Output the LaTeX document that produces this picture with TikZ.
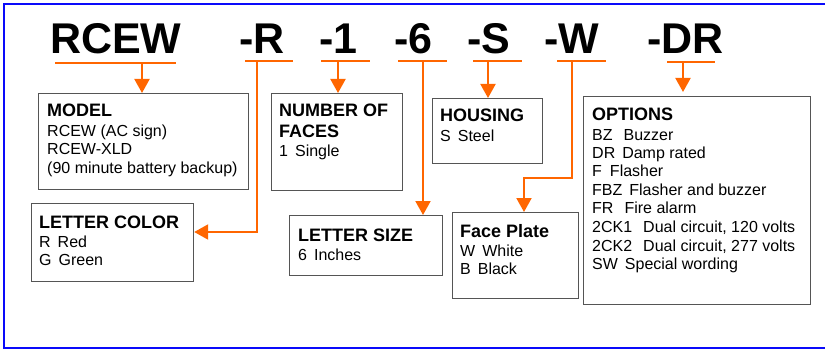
\documentclass[tikz,border=0pt]{standalone}
\usepackage{fontspec}
\setmainfont{Liberation Sans}
\usetikzlibrary{arrows.meta}
\definecolor{org}{RGB}{255,102,0}
\definecolor{bord}{RGB}{10,10,250}
\definecolor{boxc}{RGB}{85,85,85}
\newcommand{\gapsp}[1]{\hspace*{#1pt}}
\begin{document}
\begin{tikzpicture}[x=1pt,y=-1pt,
  box/.style={draw=boxc, line width=1.2pt, anchor=north west, inner sep=0pt},
  ttl/.style={anchor=base west, inner sep=0pt, font=\fontsize{43}{45}\selectfont\bfseries},
  hd/.style={anchor=base west, inner sep=0pt, font=\fontsize{18}{20}\selectfont\bfseries},
  bd/.style={anchor=base west, inner sep=0pt, font=\fontsize{16}{18}\selectfont},
  ul/.style={draw=org, line width=2pt},
  arr/.style={draw=org, line width=2pt, -{Triangle[width=15pt,length=14pt]}}]
\useasboundingbox (0,0) rectangle (825,350);
\draw[bord, line width=2.5pt] (4,4) rectangle (835,348);

% titles
\node[ttl] (tRCEW) at (50,54) {RCEW};
\node[ttl] (tR) at (239,54) {-R};
\node[ttl] (t1) at (319,54) {-1};
\node[ttl] (t6) at (394,54) {-6};
\node[ttl] (tS) at (467,54) {-S};
\node[ttl] (tW) at (544,54) {-W};
\node[ttl] (tDR) at (647,54) {-DR};

% underlines
\coordinate (uRCEWa) at (55,63);  \coordinate (uRCEWb) at (176,63); \coordinate (uRCEW) at (142,63);
\coordinate (uRa) at (245,61);    \coordinate (uRb) at (293,61);    \coordinate (uR) at (257,61);
\coordinate (u1a) at (321,61);    \coordinate (u1b) at (370,61);    \coordinate (u1) at (338,61);
\coordinate (u6a) at (398,61);    \coordinate (u6b) at (447,61);    \coordinate (u6) at (423,61);
\coordinate (uSa) at (473,61);    \coordinate (uSb) at (522,61);    \coordinate (uS) at (488,61);
\coordinate (uWa) at (557,61);    \coordinate (uWb) at (606,61);    \coordinate (uW) at (572,61);
\coordinate (uDRa) at (667,62);   \coordinate (uDRb) at (715,62);   \coordinate (uDR) at (683,62);
\foreach \u in {RCEW,R,1,6,S,W,DR} \draw[ul] (u\u a) -- (u\u b);

% boxes
\node[box, minimum width=210pt, minimum height=96pt] (model) at (38,93) {};
\node[box, minimum width=162pt, minimum height=78pt] (lcol) at (31,203) {};
\node[box, minimum width=131pt, minimum height=97pt] (faces) at (271,93) {};
\node[box, minimum width=110pt, minimum height=65pt] (hous) at (432,98) {};
\node[box, minimum width=153pt, minimum height=60pt] (lsize) at (289,215) {};
\node[box, minimum width=126pt, minimum height=86pt] (fplate) at (452,212) {};
\node[box, minimum width=227pt, minimum height=208pt] (opts) at (583,96) {};

% texts
\node[hd] (modelh) at (47,117) {MODEL};
\node[bd] (model1) at (47,137) {RCEW (AC sign)};
\node[bd] (model2) at (47,155) {RCEW-XLD};
\node[bd] (model3) at (47,174) {(90 minute battery backup)};

\node[hd] (lcolh) at (39,228) {LETTER COLOR};
\node[bd] (lcol1) at (39,247) {R\gapsp{7}Red};
\node[bd] (lcol2) at (39,265) {G\gapsp{7}Green};

\node[hd] (facesh1) at (279,117) {NUMBER OF};
\node[hd] (facesh2) at (279,138) {FACES};
\node[bd] (faces1) at (279,157) {1\gapsp{7}Single};

\node[hd] (housh) at (440,122) {HOUSING};
\node[bd] (hous1) at (440,142) {S\gapsp{7}Steel};

\node[hd] (lsizeh) at (298,241) {LETTER SIZE};
\node[bd] (lsize1) at (298,260) {6\gapsp{7}Inches};

\node[hd] (fplateh) at (460,237) {Face Plate};
\node[bd] (fplate1) at (460,256) {W\gapsp{7}White};
\node[bd] (fplate2) at (460,274) {B\gapsp{7}Black};

\node[hd] (optsh) at (592,121) {OPTIONS};
\node[bd] (opts1) at (592,141) {BZ\gapsp{11}Buzzer};
\node[bd] (opts2) at (592,159) {DR\gapsp{7}Damp rated};
\node[bd] (opts3) at (592,177) {F\gapsp{8}Flasher};
\node[bd] (opts4) at (592,196) {FBZ\gapsp{7}Flasher and buzzer};
\node[bd] (opts5) at (592,214) {FR\gapsp{11}Fire alarm};
\node[bd] (opts6) at (592,232) {2CK1\gapsp{11}Dual circuit, 120 volts};
\node[bd] (opts7) at (592,251) {2CK2\gapsp{11}Dual circuit, 277 volts};
\node[bd] (opts8) at (592,269) {SW\gapsp{7}Special wording};

% connectors
\draw[arr] (uRCEW) -- (uRCEW |- model.north);
\coordinate (lcin) at (257,232);
\draw[arr] (uR) -- (lcin) -- (lcin -| lcol.east);
\draw[arr] (u1) -- (u1 |- faces.north);
\draw[arr] (u6) -- (u6 |- lsize.north);
\draw[arr] (uS) -- (uS |- hous.north);
\coordinate (wbend1) at (572,178);
\coordinate (wbend2) at (524,178);
\draw[arr] (uW) -- (wbend1) -- (wbend2) -- (wbend2 |- fplate.north);
\coordinate (drtip) at (683,92);
\draw[arr] (uDR) -- (drtip);
\end{tikzpicture}
\end{document}
